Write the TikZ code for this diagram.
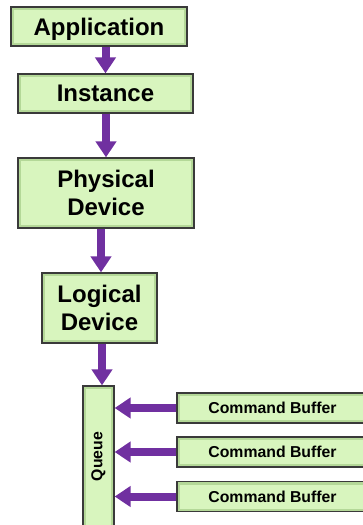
\documentclass[tikz,border=0pt]{standalone}
\usepackage{fontspec}
\setmainfont{Liberation Sans}
\usetikzlibrary{arrows.meta}
\definecolor{bevel}{HTML}{B4D898}
\definecolor{facegreen}{HTML}{D8F5BE}
\definecolor{edgegray}{HTML}{3A3A3A}
\definecolor{arrowpurple}{HTML}{7030A0}
\tikzset{
  box/.style={draw=edgegray, line width=1.2pt, fill=bevel, inner sep=0pt,
    align=center, text=black,
    path picture={\fill[facegreen] ([shift={(3pt,-3pt)}]path picture bounding box.north west) rectangle ([shift={(-3pt,3pt)}]path picture bounding box.south east);}},
  bigtext/.style={font=\fontsize{24}{28}\selectfont\bfseries},
  smalltext/.style={font=\fontsize{15.8}{18}\selectfont\bfseries},
  flow/.style={draw=arrowpurple, line width=8pt, -{Triangle[width=20pt,length=16pt]}, shorten >=0pt}
}
\begin{document}
\begin{tikzpicture}[x=1pt,y=-1pt]
\useasboundingbox (0,0) rectangle (362,525);
\node[box, bigtext, text depth=0pt, minimum width=176pt, minimum height=39pt] (app) at (99,26.5) {Application};
\node[box, bigtext, minimum width=175pt, minimum height=39pt] (inst) at (105.5,93.5) {Instance};
\node[box, bigtext, minimum width=176pt, minimum height=70pt] (phys) at (106,193) {Physical\\Device};
\node[box, bigtext, minimum width=115pt, minimum height=70pt] (log) at (99.5,308) {Logical\\Device};
\node[box, minimum width=31pt, minimum height=154pt] (queue) at (98.5,463) {};
\node[smalltext, rotate=90] (qlabel) at (98.5,456.5) {Queue};
\node[box, smalltext, minimum width=198pt, minimum height=30pt] (cb1) at (276,408) {\hspace*{-7pt}Command Buffer};
\node[box, smalltext, minimum width=198pt, minimum height=30pt] (cb2) at (276,452) {\hspace*{-7pt}Command Buffer};
\node[box, smalltext, minimum width=198pt, minimum height=30pt] (cb3) at (276,496.5) {\hspace*{-7pt}Command Buffer};
\draw[flow] (app.south -| inst) -- (inst.north);
\draw[flow] (inst.south -| phys) -- (phys.north);
\draw[flow] ([xshift=1.5pt]phys.south -| log) -- ([xshift=1.5pt]log.north);
\draw[flow] ([xshift=2.5pt]log.south) -- ([xshift=2.5pt]log.south |- queue.north);
\draw[flow] (cb1.west) -- (queue.east |- cb1.west);
\draw[flow] (cb2.west) -- (queue.east |- cb2.west);
\draw[flow] (cb3.west) -- (queue.east |- cb3.west);
\end{tikzpicture}
\end{document}
